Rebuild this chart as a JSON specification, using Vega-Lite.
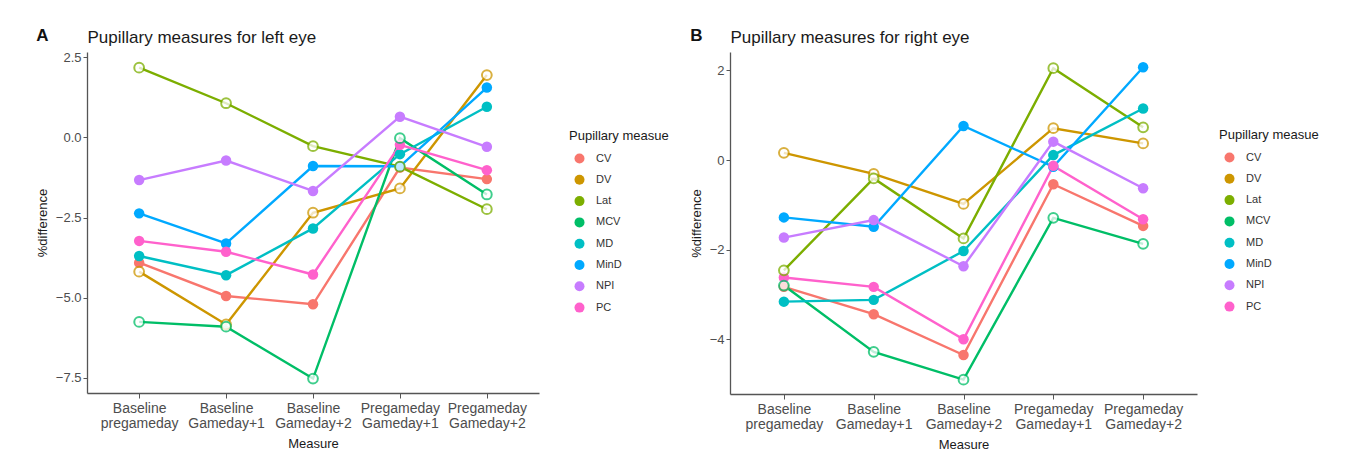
{
  "$schema": "https://vega.github.io/schema/vega-lite/v6.json",
  "background": "white",
  "padding": {"left": 36, "top": 27, "right": 5, "bottom": 5},
  "datasets": {
    "pupil": [
      {"eye": "left", "measure": "CV", "time": "Baseline pregameday", "value": -3.91},
      {"eye": "left", "measure": "CV", "time": "Baseline Gameday+1", "value": -4.95},
      {"eye": "left", "measure": "CV", "time": "Baseline Gameday+2", "value": -5.21},
      {"eye": "left", "measure": "CV", "time": "Pregameday Gameday+1", "value": -0.94},
      {"eye": "left", "measure": "CV", "time": "Pregameday Gameday+2", "value": -1.30},
      {"eye": "left", "measure": "DV", "time": "Baseline pregameday", "value": -4.19},
      {"eye": "left", "measure": "DV", "time": "Baseline Gameday+1", "value": -5.84},
      {"eye": "left", "measure": "DV", "time": "Baseline Gameday+2", "value": -2.35},
      {"eye": "left", "measure": "DV", "time": "Pregameday Gameday+1", "value": -1.59},
      {"eye": "left", "measure": "DV", "time": "Pregameday Gameday+2", "value": 1.95},
      {"eye": "left", "measure": "Lat", "time": "Baseline pregameday", "value": 2.18},
      {"eye": "left", "measure": "Lat", "time": "Baseline Gameday+1", "value": 1.07},
      {"eye": "left", "measure": "Lat", "time": "Baseline Gameday+2", "value": -0.27},
      {"eye": "left", "measure": "Lat", "time": "Pregameday Gameday+1", "value": -0.91},
      {"eye": "left", "measure": "Lat", "time": "Pregameday Gameday+2", "value": -2.24},
      {"eye": "left", "measure": "MCV", "time": "Baseline pregameday", "value": -5.76},
      {"eye": "left", "measure": "MCV", "time": "Baseline Gameday+1", "value": -5.91},
      {"eye": "left", "measure": "MCV", "time": "Baseline Gameday+2", "value": -7.53},
      {"eye": "left", "measure": "MCV", "time": "Pregameday Gameday+1", "value": -0.02},
      {"eye": "left", "measure": "MCV", "time": "Pregameday Gameday+2", "value": -1.78},
      {"eye": "left", "measure": "MD", "time": "Baseline pregameday", "value": -3.70},
      {"eye": "left", "measure": "MD", "time": "Baseline Gameday+1", "value": -4.30},
      {"eye": "left", "measure": "MD", "time": "Baseline Gameday+2", "value": -2.84},
      {"eye": "left", "measure": "MD", "time": "Pregameday Gameday+1", "value": -0.52},
      {"eye": "left", "measure": "MD", "time": "Pregameday Gameday+2", "value": 0.96},
      {"eye": "left", "measure": "MinD", "time": "Baseline pregameday", "value": -2.37},
      {"eye": "left", "measure": "MinD", "time": "Baseline Gameday+1", "value": -3.31},
      {"eye": "left", "measure": "MinD", "time": "Baseline Gameday+2", "value": -0.89},
      {"eye": "left", "measure": "MinD", "time": "Pregameday Gameday+1", "value": -0.90},
      {"eye": "left", "measure": "MinD", "time": "Pregameday Gameday+2", "value": 1.56},
      {"eye": "left", "measure": "NPI", "time": "Baseline pregameday", "value": -1.33},
      {"eye": "left", "measure": "NPI", "time": "Baseline Gameday+1", "value": -0.72},
      {"eye": "left", "measure": "NPI", "time": "Baseline Gameday+2", "value": -1.67},
      {"eye": "left", "measure": "NPI", "time": "Pregameday Gameday+1", "value": 0.65},
      {"eye": "left", "measure": "NPI", "time": "Pregameday Gameday+2", "value": -0.29},
      {"eye": "left", "measure": "PC", "time": "Baseline pregameday", "value": -3.23},
      {"eye": "left", "measure": "PC", "time": "Baseline Gameday+1", "value": -3.57},
      {"eye": "left", "measure": "PC", "time": "Baseline Gameday+2", "value": -4.28},
      {"eye": "left", "measure": "PC", "time": "Pregameday Gameday+1", "value": -0.23},
      {"eye": "left", "measure": "PC", "time": "Pregameday Gameday+2", "value": -1.02},
      {"eye": "right", "measure": "CV", "time": "Baseline pregameday", "value": -2.83},
      {"eye": "right", "measure": "CV", "time": "Baseline Gameday+1", "value": -3.44},
      {"eye": "right", "measure": "CV", "time": "Baseline Gameday+2", "value": -4.35},
      {"eye": "right", "measure": "CV", "time": "Pregameday Gameday+1", "value": -0.54},
      {"eye": "right", "measure": "CV", "time": "Pregameday Gameday+2", "value": -1.47},
      {"eye": "right", "measure": "DV", "time": "Baseline pregameday", "value": 0.16},
      {"eye": "right", "measure": "DV", "time": "Baseline Gameday+1", "value": -0.31},
      {"eye": "right", "measure": "DV", "time": "Baseline Gameday+2", "value": -0.98},
      {"eye": "right", "measure": "DV", "time": "Pregameday Gameday+1", "value": 0.71},
      {"eye": "right", "measure": "DV", "time": "Pregameday Gameday+2", "value": 0.37},
      {"eye": "right", "measure": "Lat", "time": "Baseline pregameday", "value": -2.46},
      {"eye": "right", "measure": "Lat", "time": "Baseline Gameday+1", "value": -0.41},
      {"eye": "right", "measure": "Lat", "time": "Baseline Gameday+2", "value": -1.75},
      {"eye": "right", "measure": "Lat", "time": "Pregameday Gameday+1", "value": 2.05},
      {"eye": "right", "measure": "Lat", "time": "Pregameday Gameday+2", "value": 0.73},
      {"eye": "right", "measure": "MCV", "time": "Baseline pregameday", "value": -2.80},
      {"eye": "right", "measure": "MCV", "time": "Baseline Gameday+1", "value": -4.28},
      {"eye": "right", "measure": "MCV", "time": "Baseline Gameday+2", "value": -4.90},
      {"eye": "right", "measure": "MCV", "time": "Pregameday Gameday+1", "value": -1.29},
      {"eye": "right", "measure": "MCV", "time": "Pregameday Gameday+2", "value": -1.87},
      {"eye": "right", "measure": "MD", "time": "Baseline pregameday", "value": -3.16},
      {"eye": "right", "measure": "MD", "time": "Baseline Gameday+1", "value": -3.12},
      {"eye": "right", "measure": "MD", "time": "Baseline Gameday+2", "value": -2.03},
      {"eye": "right", "measure": "MD", "time": "Pregameday Gameday+1", "value": 0.11},
      {"eye": "right", "measure": "MD", "time": "Pregameday Gameday+2", "value": 1.15},
      {"eye": "right", "measure": "MinD", "time": "Baseline pregameday", "value": -1.28},
      {"eye": "right", "measure": "MinD", "time": "Baseline Gameday+1", "value": -1.49},
      {"eye": "right", "measure": "MinD", "time": "Baseline Gameday+2", "value": 0.76},
      {"eye": "right", "measure": "MinD", "time": "Pregameday Gameday+1", "value": -0.15},
      {"eye": "right", "measure": "MinD", "time": "Pregameday Gameday+2", "value": 2.07},
      {"eye": "right", "measure": "NPI", "time": "Baseline pregameday", "value": -1.73},
      {"eye": "right", "measure": "NPI", "time": "Baseline Gameday+1", "value": -1.34},
      {"eye": "right", "measure": "NPI", "time": "Baseline Gameday+2", "value": -2.37},
      {"eye": "right", "measure": "NPI", "time": "Pregameday Gameday+1", "value": 0.41},
      {"eye": "right", "measure": "NPI", "time": "Pregameday Gameday+2", "value": -0.63},
      {"eye": "right", "measure": "PC", "time": "Baseline pregameday", "value": -2.62},
      {"eye": "right", "measure": "PC", "time": "Baseline Gameday+1", "value": -2.83},
      {"eye": "right", "measure": "PC", "time": "Baseline Gameday+2", "value": -4.00},
      {"eye": "right", "measure": "PC", "time": "Pregameday Gameday+1", "value": -0.13},
      {"eye": "right", "measure": "PC", "time": "Pregameday Gameday+2", "value": -1.32}
    ]
  },
  "data": {"name": "pupil"},
  "spacing": 21,
  "hconcat": [
    {
      "width": 452,
      "height": 341,
      "transform": [{"filter": "datum.eye === 'left'"}],
      "title": {"text": "A"},
      "encoding": {
        "x": {
          "field": "time", "type": "nominal", "title": "Measure",
          "sort": ["Baseline pregameday", "Baseline Gameday+1", "Baseline Gameday+2", "Pregameday Gameday+1", "Pregameday Gameday+2"],
          "scale": {"type": "point", "padding": 0.6},
          "axis": {"labelExpr": "split(datum.label, ' ')", "labelAngle": 0, "titleFontWeight": "normal"}
        },
        "y": {
          "field": "value", "type": "quantitative", "title": "%difference",
          "scale": {"domain": [-7.98, 2.67], "nice": false, "zero": false},
          "axis": {"values": [-7.5, -5, -2.5, 0, 2.5], "format": ".1f", "titleFontWeight": "normal"}
        },
        "color": {
          "field": "measure", "type": "nominal", "title": "Pupillary measue",
          "scale": {"domain": ["CV", "DV", "Lat", "MCV", "MD", "MinD", "NPI", "PC"],
                    "range": ["#F8766D", "#CD9600", "#7CAE00", "#00BE67", "#00BFC4", "#00A9FF", "#C77CFF", "#FF61CC"]},
          "legend": {"orient": "none", "legendX": 482, "legendY": 78}
        }
      },
      "layer": [
        {
          "mark": {"type": "line", "strokeWidth": 2.4},
          "encoding": {
            "x": {
              "field": "time", "type": "nominal",
              "sort": ["Baseline pregameday", "Baseline Gameday+1", "Baseline Gameday+2", "Pregameday Gameday+1", "Pregameday Gameday+2"],
              "scale": {"type": "point", "padding": 0.6},
              "axis": {"orient": "top", "title": "Pupillary measures for left eye", "labels": false, "ticks": false, "domain": false,
                       "titleAnchor": "start", "titleFontSize": 17, "titlePadding": 6, "titleColor": "#1a1a1a", "titleFontWeight": "normal"}
            }
          }
        },
        {"transform": [{"filter": {"field": "measure", "oneOf": ["CV", "MD", "MinD", "NPI", "PC"]}}],
         "mark": {"type": "point", "filled": true, "size": 110, "opacity": 1}},
        {"transform": [{"filter": {"field": "measure", "oneOf": ["DV", "Lat", "MCV"]}}],
         "mark": {"type": "point", "filled": false, "fill": "white", "size": 95, "strokeWidth": 2, "opacity": 0.75},
         "encoding": {
            "x": {
              "field": "time", "type": "nominal",
              "sort": ["Baseline pregameday", "Baseline Gameday+1", "Baseline Gameday+2", "Pregameday Gameday+1", "Pregameday Gameday+2"],
              "scale": {"type": "point", "padding": 0.6},
              "axis": null
            }
         }}
      ],
      "resolve": {"axis": {"x": "independent"}}
    },
    {
      "width": 467,
      "height": 342,
      "transform": [{"filter": "datum.eye === 'right'"}],
      "title": {"text": "B"},
      "encoding": {
        "x": {
          "field": "time", "type": "nominal", "title": "Measure",
          "sort": ["Baseline pregameday", "Baseline Gameday+1", "Baseline Gameday+2", "Pregameday Gameday+1", "Pregameday Gameday+2"],
          "scale": {"type": "point", "padding": 0.6},
          "axis": {"labelExpr": "split(datum.label, ' ')", "labelAngle": 0, "titleFontWeight": "normal"}
        },
        "y": {
          "field": "value", "type": "quantitative", "title": "%difference",
          "scale": {"domain": [-5.22, 2.41], "nice": false, "zero": false},
          "axis": {"values": [-4, -2, 0, 2], "format": "d", "titleFontWeight": "normal"}
        },
        "color": {
          "field": "measure", "type": "nominal", "title": "Pupillary measue",
          "scale": {"domain": ["CV", "DV", "Lat", "MCV", "MD", "MinD", "NPI", "PC"],
                    "range": ["#F8766D", "#CD9600", "#7CAE00", "#00BE67", "#00BFC4", "#00A9FF", "#C77CFF", "#FF61CC"]},
          "legend": {"orient": "none", "legendX": 489, "legendY": 77}
        }
      },
      "layer": [
        {
          "mark": {"type": "line", "strokeWidth": 2.4},
          "encoding": {
            "x": {
              "field": "time", "type": "nominal",
              "sort": ["Baseline pregameday", "Baseline Gameday+1", "Baseline Gameday+2", "Pregameday Gameday+1", "Pregameday Gameday+2"],
              "scale": {"type": "point", "padding": 0.6},
              "axis": {"orient": "top", "title": "Pupillary measures for right eye", "labels": false, "ticks": false, "domain": false,
                       "titleAnchor": "start", "titleFontSize": 17, "titlePadding": 6, "titleColor": "#1a1a1a", "titleFontWeight": "normal"}
            }
          }
        },
        {"transform": [{"filter": {"field": "measure", "oneOf": ["CV", "MD", "MinD", "NPI", "PC"]}}],
         "mark": {"type": "point", "filled": true, "size": 110, "opacity": 1}},
        {"transform": [{"filter": {"field": "measure", "oneOf": ["DV", "Lat", "MCV"]}}],
         "mark": {"type": "point", "filled": false, "fill": "white", "size": 95, "strokeWidth": 2, "opacity": 0.75},
         "encoding": {
            "x": {
              "field": "time", "type": "nominal",
              "sort": ["Baseline pregameday", "Baseline Gameday+1", "Baseline Gameday+2", "Pregameday Gameday+1", "Pregameday Gameday+2"],
              "scale": {"type": "point", "padding": 0.6},
              "axis": null
            }
         }}
      ],
      "resolve": {"axis": {"x": "independent"}}
    }
  ],
  "resolve": {"scale": {"color": "independent", "x": "independent", "y": "independent"}},
  "config": {
    "font": "Liberation Sans",
    "view": {"stroke": null},
    "title": {
      "anchor": "start", "frame": "bounds", "fontSize": 17, "fontWeight": "bold", "color": "#111111",
      "offset": -17, "dx": 0
    },
    "axis": {
      "grid": false, "domainColor": "#555555", "domainWidth": 1.3, "tickColor": "#555555",
      "tickSize": 4, "tickWidth": 1, "labelColor": "#4d4d4d", "labelFontSize": 13,
      "titleFontSize": 13, "titleFontWeight": "normal", "titleColor": "#1a1a1a", "labelPadding": 2
    },
    "axisX": {"titlePadding": 7, "labelLineHeight": 15, "labelFontSize": 14, "labelPadding": 3, "tickSize": 5},
    "axisY": {"titlePadding": 6},
    "legend": {
      "titleFontSize": 13, "titleFontWeight": "normal", "titleColor": "#1a1a1a",
      "labelFontSize": 11, "labelColor": "#333333", "symbolType": "circle", "symbolSize": 100,
      "symbolStrokeWidth": 0, "rowPadding": 9.3, "titlePadding": 10, "labelOffset": 11, "symbolOffset": 5
    }
  }
}
